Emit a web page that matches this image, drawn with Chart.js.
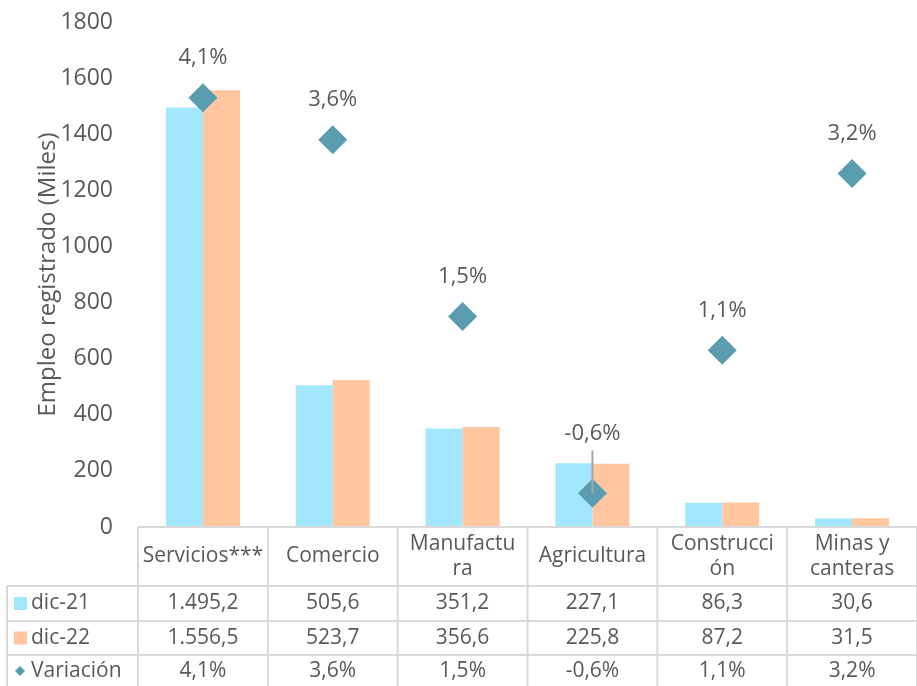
<!DOCTYPE html>
<html>
<head>
<meta charset="utf-8">
<script src="https://cdn.jsdelivr.net/npm/chart.js@4"></script>
<style>
  body { margin: 0; background: #fff; }
  #wrap { width: 917px; height: 686px; position: relative; }
</style>
</head>
<body>
<div id="wrap"><canvas id="chart"></canvas></div>
<script>
const categories = ["Servicios***", "Comercio", "Manufactura", "Agricultura", "Construcción", "Minas y canteras"];
const headerLabels = [["Servicios***"], ["Comercio"], ["Manufactu", "ra"], ["Agricultura"], ["Construcci", "ón"], ["Minas y", "canteras"]];
const dic21 = [1495.2, 505.6, 351.2, 227.1, 86.3, 30.6];
const dic22 = [1556.5, 523.7, 356.6, 225.8, 87.2, 31.5];
const variacion = [4.1, 3.6, 1.5, -0.6, 1.1, 3.2];
const yTicks = [0, 200, 400, 600, 800, 1000, 1200, 1400, 1600, 1800];

const FONT = "'Open Sans', Lato, sans-serif";
const TEXT = "#595959";
const GRID = "#d9d9d9";
const C21 = "#a3e7fc";
const C22 = "#ffc6a0";
const CVAR = "#5b9db0";

function fmtNum(v) {
  const parts = v.toFixed(1).split(".");
  const int = parts[0].replace(/\B(?=(\d{3})+(?!\d))/g, ".");
  return int + "," + parts[1];
}
function fmtPct(v) {
  return v.toFixed(1).replace(".", ",") + "%";
}

// etiquetas de variación sobre los rombos
const varLabels = {
  id: "varLabels",
  afterDatasetsDraw(chart) {
    const ctx = chart.ctx;
    const meta = chart.getDatasetMeta(2);
    ctx.save();
    ctx.font = "22px " + FONT;
    ctx.fillStyle = TEXT;
    ctx.textAlign = "center";
    ctx.textBaseline = "middle";
    meta.data.forEach((pt, i) => {
      let off = 40;
      if (variacion[i] < 0) {
        off = 60;
        ctx.strokeStyle = "#a6a6a6";
        ctx.lineWidth = 2;
        ctx.beginPath();
        ctx.moveTo(pt.x, pt.y - 43);
        ctx.lineTo(pt.x, pt.y);
        ctx.stroke();
      }
      ctx.fillText(fmtPct(variacion[i]), pt.x, pt.y - off);
    });
    ctx.restore();
  }
};

// tabla de datos bajo el gráfico
const dataTable = {
  id: "dataTable",
  afterDraw(chart) {
    const ctx = chart.ctx;
    const area = chart.chartArea;
    const xs = chart.scales.x;
    const colW = (area.right - area.left) / categories.length;
    const top = area.bottom;
    const rows = [top, top + 59, top + 94, top + 128, top + 160];
    const left0 = 7;
    ctx.save();
    ctx.strokeStyle = GRID;
    ctx.lineWidth = 2;
    ctx.beginPath();
    ctx.moveTo(area.left, rows[0]); ctx.lineTo(area.right, rows[0]);
    for (let r = 1; r < rows.length; r++) {
      ctx.moveTo(left0, rows[r]); ctx.lineTo(area.right, rows[r]);
    }
    ctx.moveTo(left0, rows[1]); ctx.lineTo(left0, rows[4]);
    for (let c = 0; c <= categories.length; c++) {
      const x = area.left + c * colW;
      ctx.moveTo(x, rows[0]); ctx.lineTo(x, rows[4]);
    }
    ctx.stroke();

    ctx.fillStyle = TEXT;
    ctx.font = "21px " + FONT;
    ctx.textAlign = "center";
    ctx.textBaseline = "middle";
    headerLabels.forEach((lines, i) => {
      const cx = xs.getPixelForValue(i);
      const mid = (rows[0] + rows[1]) / 2;
      const lh = 25;
      lines.forEach((ln, k) => {
        ctx.fillText(ln, cx, mid + (k - (lines.length - 1) / 2) * lh);
      });
    });
    const series = [
      { name: "dic-21", vals: dic21.map(fmtNum), color: C21, mark: "square" },
      { name: "dic-22", vals: dic22.map(fmtNum), color: C22, mark: "square" },
      { name: "Variación", vals: variacion.map(fmtPct), color: CVAR, mark: "diamond" }
    ];
    series.forEach((s, r) => {
      const cy = (rows[r + 1] + rows[r + 2]) / 2;
      s.vals.forEach((v, i) => {
        ctx.fillStyle = TEXT;
        ctx.textAlign = "center";
        ctx.fillText(v, xs.getPixelForValue(i), cy);
      });
      ctx.fillStyle = s.color;
      if (s.mark === "square") {
        ctx.fillRect(14, cy - 6.5, 13, 13);
      } else {
        ctx.beginPath();
        ctx.moveTo(20, cy - 5); ctx.lineTo(25, cy); ctx.lineTo(20, cy + 5); ctx.lineTo(15, cy);
        ctx.closePath();
        ctx.fill();
      }
      ctx.fillStyle = TEXT;
      ctx.textAlign = "left";
      ctx.fillText(s.name, 31, cy);
    });
    ctx.restore();
  }
};

new Chart(document.getElementById("chart"), {
  data: {
    labels: categories,
    datasets: [
      { type: "bar", label: "dic-21", data: dic21, backgroundColor: C21, yAxisID: "y", order: 1,
        categoryPercentage: 0.57, barPercentage: 1 },
      { type: "bar", label: "dic-22", data: dic22, backgroundColor: C22, yAxisID: "y", order: 1,
        categoryPercentage: 0.57, barPercentage: 1 },
      { type: "line", label: "Variación", data: variacion, yAxisID: "y2", order: 0, showLine: false,
        pointStyle: "rectRot", pointRadius: 14.5, pointHoverRadius: 14.5,
        backgroundColor: CVAR, borderColor: CVAR, borderWidth: 0, clip: false }
    ]
  },
  options: {
    responsive: true,
    maintainAspectRatio: false,
    animation: false,
    layout: { autoPadding: false, padding: { top: 22, left: 0, right: 0, bottom: 159 } },
    plugins: {
      legend: { display: false },
      tooltip: { enabled: false }
    },
    scales: {
      x: { display: false },
      y: {
        min: 0, max: 1800,
        afterBuildTicks(scale) { scale.ticks = yTicks.map(v => ({ value: v })); },
        afterFit(scale) { scale.width = 138; scale.paddingTop = 0; scale.paddingBottom = 0; },
        grid: { display: false, drawTicks: false },
        border: { display: false },
        ticks: { color: TEXT, font: { family: FONT, size: 23 }, padding: 25, callback: v => String(v) },
        title: {
          display: true, text: "Empleo registrado (Miles)", color: TEXT,
          font: { family: FONT, size: 24 }, padding: { top: 34, bottom: 0 }
        }
      },
      y2: { display: false, position: "right", min: -1, max: 5 }
    }
  },
  plugins: [varLabels, dataTable]
});
</script>
</body>
</html>
